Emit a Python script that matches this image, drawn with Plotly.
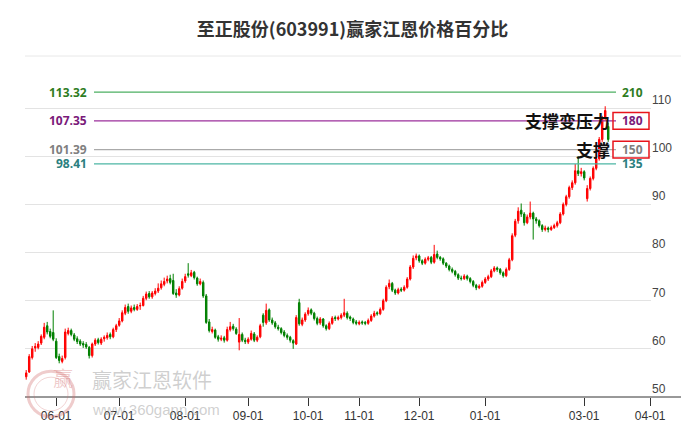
import numpy as np
import plotly.graph_objects as go

# trading days falling in each month segment (first entry: days before 06-01)
month_days = [10, 21, 22, 21, 20, 17, 20, 22, 33, 22]
month_labels = ["06-01", "07-01", "08-01", "09-01", "10-01", "11-01", "12-01", "01-01", "03-01", "04-01"]

opens = [54.2, 55.2, 58.2, 60.2, 60.3, 61.2, 62.4, 64.8, 63.6, 63.4,
         61.6, 58.4, 57.4, 58.2, 63.2, 63.8, 62.9, 62.1, 61.6, 61.1,
         60.9, 60.3, 58.6, 61.0, 61.9, 61.2, 62.1, 62.3, 63.0, 62.5,
         64.0, 64.9, 65.8, 67.4, 68.8, 67.8, 68.6, 68.2, 68.9, 69.0,
         70.5, 71.5, 70.8, 71.5, 72.0, 72.7, 73.4, 74.1, 74.6, 74.2,
         71.6, 71.2, 72.6, 74.1, 75.6, 75.2, 75.9, 74.7, 73.5, 73.8,
         71.0, 65.6, 63.6, 63.9, 62.5, 62.0, 62.3, 61.8, 64.0, 64.7,
         64.1, 61.4, 63.0, 61.8, 61.4, 62.0, 63.1, 61.8, 62.5, 67.0,
         65.4, 68.1, 66.0, 65.4, 64.5, 64.2, 63.5, 62.8, 62.4, 61.7,
         61.0, 69.6, 65.1, 66.0, 67.3, 68.1, 67.4, 66.3, 65.4, 66.2,
         64.8, 64.2, 65.3, 66.5, 66.2, 66.5, 67.0, 67.4, 66.6, 66.2,
         65.6, 65.2, 65.6, 65.5, 65.3, 65.9, 66.8, 67.5, 67.3, 68.2,
         70.0, 72.9, 73.6, 72.2, 71.6, 72.4, 72.2, 72.8, 74.5, 77.0,
         78.9, 79.3, 78.3, 77.8, 78.6, 79.0, 78.0, 79.7, 79.0, 78.7,
         77.8, 77.2, 76.5, 76.1, 75.4, 74.7, 74.6, 75.1, 74.6, 74.0,
         73.2, 72.7, 73.0, 73.8, 74.5, 75.0, 76.2, 76.8, 76.5, 75.8,
         75.2, 76.5, 78.5, 83.6, 86.6, 88.8, 88.0, 86.2, 87.4, 88.2,
         87.0, 86.6, 85.6, 84.8, 85.1, 84.8, 85.2, 85.6, 86.2, 88.0,
         90.0, 91.6, 93.5, 94.5, 97.0, 96.4, 96.8, 91.2, 93.3, 95.4,
         97.5, 99.5, 103.5, 108.0, 106.2]
highs = [55.6, 58.9, 60.6, 61.2, 61.6, 63.0, 65.4, 65.6, 64.2, 68.0,
         62.2, 59.0, 58.6, 64.2, 64.4, 64.2, 63.3, 62.6, 62.0, 61.6,
         61.4, 60.6, 61.3, 62.2, 62.3, 62.4, 62.8, 63.4, 63.4, 64.4,
         65.2, 66.4, 68.0, 69.2, 69.4, 69.0, 69.2, 69.3, 69.6, 71.0,
         71.9, 72.0, 72.0, 72.6, 73.6, 74.2, 74.8, 75.2, 75.4, 75.6,
         72.4, 73.0, 74.6, 75.6, 77.8, 76.4, 76.2, 75.0, 74.6, 74.2,
         71.4, 66.2, 64.6, 64.2, 62.9, 62.8, 62.7, 64.6, 65.6, 65.2,
         64.5, 66.4, 63.4, 62.3, 62.4, 63.8, 63.5, 62.8, 65.2, 67.4,
         69.4, 68.4, 66.5, 65.8, 65.0, 64.5, 63.9, 63.2, 62.7, 62.0,
         67.0, 70.4, 66.5, 67.6, 68.6, 68.4, 67.7, 66.7, 66.6, 66.4,
         65.1, 65.7, 66.8, 66.9, 66.9, 67.4, 70.4, 67.8, 66.9, 66.5,
         66.0, 65.9, 65.9, 65.8, 66.3, 67.2, 67.9, 67.8, 68.6, 70.4,
         73.2, 74.4, 73.9, 72.5, 72.7, 72.8, 73.2, 74.9, 77.4, 79.4,
         79.8, 79.6, 78.6, 79.0, 79.3, 79.3, 81.6, 80.4, 79.3, 79.0,
         78.0, 77.5, 76.9, 76.4, 75.7, 75.2, 75.5, 75.4, 74.9, 74.3,
         73.5, 73.4, 74.2, 74.9, 75.4, 76.6, 77.2, 77.1, 76.8, 76.1,
         76.9, 78.9, 84.0, 87.0, 89.4, 90.2, 88.4, 87.9, 90.6, 88.5,
         87.4, 86.9, 85.9, 85.6, 85.4, 85.6, 86.0, 86.6, 88.4, 90.4,
         92.0, 93.9, 95.0, 98.4, 100.0, 97.6, 97.1, 94.0, 95.8, 97.9,
         99.9, 104.0, 108.4, 110.4, 107.0]
lows = [53.6, 55.0, 57.8, 59.4, 59.9, 60.8, 62.0, 63.0, 62.2, 61.6,
        57.9, 57.0, 57.0, 57.8, 62.8, 62.6, 61.6, 61.0, 60.6, 60.2,
        60.0, 58.0, 58.2, 60.6, 60.9, 60.8, 61.5, 61.9, 62.0, 62.2,
        63.5, 64.6, 65.5, 67.0, 67.3, 67.4, 67.8, 67.9, 68.1, 68.8,
        70.1, 70.4, 70.4, 71.1, 71.6, 72.3, 73.0, 73.6, 73.4, 71.2,
        70.6, 70.9, 72.3, 73.7, 74.8, 74.9, 74.4, 73.1, 73.2, 70.6,
        65.2, 63.4, 63.2, 62.1, 61.5, 61.6, 61.3, 61.5, 63.6, 63.8,
        62.9, 59.7, 61.4, 61.0, 61.0, 61.7, 61.4, 61.4, 62.2, 64.6,
        65.0, 65.6, 65.0, 64.2, 63.8, 63.0, 62.4, 61.9, 61.3, 60.0,
        60.8, 64.8, 64.7, 65.6, 66.9, 67.0, 65.9, 64.9, 65.0, 64.4,
        63.8, 63.9, 65.0, 65.8, 65.9, 66.1, 66.6, 66.1, 65.8, 65.1,
        64.9, 64.9, 65.0, 64.9, 65.0, 65.6, 66.5, 66.9, 67.0, 67.9,
        69.7, 72.4, 71.8, 71.2, 71.3, 71.8, 71.9, 72.5, 74.2, 76.6,
        78.4, 77.9, 77.4, 77.5, 78.2, 77.6, 77.7, 78.6, 78.3, 77.4,
        76.8, 76.1, 75.7, 75.0, 74.3, 74.2, 74.3, 74.2, 73.6, 72.8,
        72.2, 72.4, 72.7, 73.5, 74.1, 74.7, 75.9, 76.0, 75.4, 74.8,
        74.9, 76.2, 78.2, 83.2, 86.0, 87.4, 85.6, 85.9, 86.9, 82.7,
        86.0, 85.2, 84.3, 84.4, 84.2, 84.5, 84.9, 85.2, 85.9, 87.7,
        89.6, 91.2, 93.0, 94.1, 95.9, 95.8, 95.0, 90.6, 92.9, 95.0,
        97.1, 99.1, 103.0, 107.4, 103.0]
closes = [55.0, 58.4, 60.0, 60.5, 61.0, 62.6, 64.5, 63.5, 62.6, 62.0,
          58.2, 57.6, 58.0, 63.5, 63.8, 63.0, 62.0, 61.5, 61.0, 60.8,
          60.4, 58.6, 61.0, 61.8, 61.3, 62.0, 62.4, 62.8, 62.5, 64.0,
          64.8, 65.8, 67.5, 68.6, 67.8, 68.5, 68.2, 68.8, 69.0, 70.5,
          71.4, 70.8, 71.6, 72.0, 72.6, 73.5, 74.0, 74.5, 73.8, 71.5,
          71.2, 72.5, 74.0, 75.0, 75.3, 75.8, 74.8, 73.5, 74.0, 71.0,
          65.5, 63.8, 64.0, 62.4, 62.0, 62.2, 61.8, 64.0, 64.6, 64.2,
          63.2, 63.0, 61.8, 61.5, 62.0, 63.2, 61.8, 62.4, 64.8, 65.5,
          68.0, 66.0, 65.4, 64.6, 64.2, 63.4, 62.8, 62.4, 61.8, 61.2,
          66.5, 65.2, 66.0, 67.2, 68.0, 67.4, 66.3, 65.3, 66.2, 64.8,
          64.2, 65.3, 66.4, 66.3, 66.5, 67.0, 67.5, 66.5, 66.3, 65.5,
          65.3, 65.5, 65.4, 65.3, 65.9, 66.8, 67.4, 67.3, 68.2, 70.0,
          72.8, 73.6, 72.2, 71.6, 72.3, 72.2, 72.8, 74.5, 77.0, 78.8,
          79.3, 78.3, 77.8, 78.6, 78.9, 78.0, 79.6, 79.0, 78.7, 77.8,
          77.2, 76.5, 76.1, 75.4, 74.7, 74.6, 75.1, 74.6, 74.0, 73.2,
          72.7, 73.0, 73.8, 74.5, 75.0, 76.2, 76.8, 76.5, 75.8, 75.2,
          76.5, 78.5, 83.5, 86.5, 88.6, 88.0, 86.2, 87.4, 88.2, 87.0,
          86.6, 85.6, 84.8, 85.1, 84.8, 85.2, 85.6, 86.2, 88.0, 90.0,
          91.6, 93.5, 94.5, 97.0, 96.4, 96.8, 95.5, 93.3, 95.4, 97.5,
          99.5, 103.5, 108.0, 109.5, 103.5]

gann_prices = [113.32, 107.35, 101.39, 98.41]
gann_pcts = ["210", "180", "150", "135"]
gann_text_colors = ["#2f7d1f", "#7a1a7a", "#808080", "#2b7f7f"]
gann_line_colors = ["#4caf62", "#9b2f9b", "#aaaaaa", "#4db6a4"]
boxed = {107.35: "支撑变压力", 101.39: "支撑"}

y_ticks = [50, 60, 70, 80, 90, 100, 110]

# plot area in pixels
L, R, T, B = 17, 643, 52, 392
W = R - L
H = B - T
def px(x):
    return (x - L) / W

def py(y):
    return (B - y) / H

idx = np.arange(len(closes))
tick_idx = np.cumsum(month_days)

fig = go.Figure()
fig.add_trace(go.Candlestick(x = idx, open = opens, high = highs, low = lows, close = closes,
    increasing = dict(line = dict(color = '#ff0000', width = 1), fillcolor = '#ff0000'),
    decreasing = dict(line = dict(color = '#008000', width = 1), fillcolor = '#008000'),
    whiskerwidth = 0, showlegend = False, hoverinfo = 'skip'))

shapes = []
annotations = []
for price, pct, tc, lc in zip(gann_prices, gann_pcts, gann_text_colors, gann_line_colors):
    shapes.append(dict(type = 'line', xref = 'paper', yref = 'y', x0 = px(86), x1 = px(608), y0 = price, y1 = price,
        line = dict(color = lc, width = 1.3)))
    annotations.append(dict(xref = 'paper', yref = 'y', x = px(81), y = price, text = f"{price:.2f}", showarrow = False,
        xanchor = 'right', yanchor = 'middle', font = dict(family = 'Open Sans', size = 12, color = tc, weight = 'bold')))
    annotations.append(dict(xref = 'paper', yref = 'y', x = px(612), y = price, text = pct, showarrow = False,
        xanchor = 'left', yanchor = 'middle', font = dict(family = 'Open Sans', size = 12, color = tc, weight = 'bold')))
    if price in boxed:
        shapes.append(dict(type = 'rect', xref = 'paper', yref = 'y', x0 = px(605), x1 = px(641), y0 = price - 1.75, y1 = price + 1.75,
            line = dict(color = '#e8141c', width = 1.5)))
        annotations.append(dict(xref = 'paper', yref = 'y', x = px(604), y = price, text = boxed[price], showarrow = False,
            xanchor = 'right', yanchor = 'middle', font = dict(family = 'Noto Sans CJK SC', size = 17, color = '#111111', weight = 'bold')))

# axis line and top separator
shapes.append(dict(type = 'line', xref = 'paper', yref = 'paper', x0 = 0, x1 = px(689), y0 = 0, y1 = 0, line = dict(color = '#333333', width = 1)))
shapes.append(dict(type = 'line', xref = 'paper', yref = 'paper', x0 = 0, x1 = px(689), y0 = py(48), y1 = py(48), line = dict(color = '#e8e8e8', width = 1)))

# watermark
shapes.append(dict(type = 'circle', xref = 'paper', yref = 'paper', x0 = px(20), x1 = px(66), y0 = py(412), y1 = py(366),
    line = dict(color = 'rgba(210,110,110,0.35)', width = 3)))
shapes.append(dict(type = 'circle', xref = 'paper', yref = 'paper', x0 = px(26), x1 = px(60), y0 = py(406), y1 = py(372),
    line = dict(color = 'rgba(210,110,110,0.3)', width = 1)))
annotations.append(dict(xref = 'paper', yref = 'paper', x = px(43), y = py(389), text = "赢", showarrow = False,
    font = dict(family = 'Noto Sans CJK SC', size = 20, color = 'rgba(210,110,110,0.35)')))
annotations.append(dict(xref = 'paper', yref = 'paper', x = px(82), y = py(391), text = "赢家江恩软件", showarrow = False,
    xanchor = 'left', font = dict(family = 'Noto Sans CJK SC', size = 20, color = 'rgba(160,160,160,0.5)')))
annotations.append(dict(xref = 'paper', yref = 'paper', x = px(82), y = py(415), text = "www.360gann.com", showarrow = False,
    xanchor = 'left', font = dict(family = 'Liberation Sans', size = 15, color = 'rgba(160,160,160,0.5)')))

fig.update_layout(width = 689, height = 427, margin = dict(l = L, r = 689 - R, t = T, b = 427 - B),
    plot_bgcolor = '#ffffff', paper_bgcolor = '#ffffff', showlegend = False,
    title = dict(text = "至正股份(603991)赢家江恩价格百分比", x = 0.5, xanchor = 'center', xref = 'container',
        y = 1 - 22 / 427, yanchor = 'middle', yref = 'container',
        font = dict(family = 'Noto Sans CJK SC', size = 18, color = '#333333', weight = 'bold')),
    shapes = shapes, annotations = annotations)
fig.update_xaxes(range = [-0.4, W / 3 - 0.4], tickvals = tick_idx, ticktext = month_labels, ticks = 'outside', ticklen = 8,
    tickcolor = '#333333', showgrid = False, zeroline = False, showline = False, rangeslider_visible = False,
    tickfont = dict(family = 'Liberation Sans', size = 12, color = '#333333'))
fig.update_yaxes(side = 'right', range = [50, 50 + H / 4.857], tickvals = y_ticks, showgrid = True, gridcolor = '#e3e3e3',
    gridwidth = 1, zeroline = False, showline = False, ticks = '', ticklabelposition = 'outside top',
    tickfont = dict(family = 'Liberation Sans', size = 12, color = '#444444'))

fig.write_html("out.html")
